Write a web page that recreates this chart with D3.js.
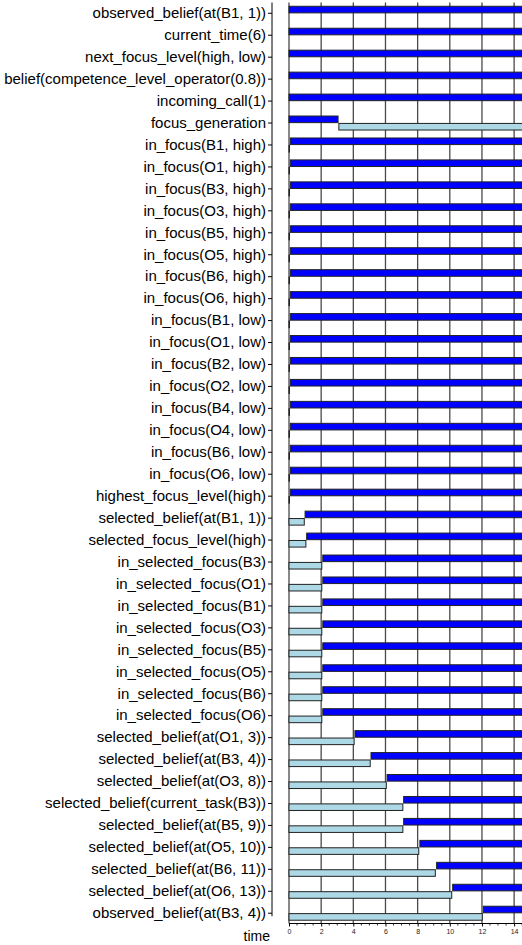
<!DOCTYPE html>
<html>
<head>
<meta charset="utf-8">
<script src="https://cdn.jsdelivr.net/npm/d3@7"></script>
<style>
  html, body { margin: 0; padding: 0; background: #fff; }
  svg { display: block; }
</style>
</head>
<body>
<svg id="chart" width="522" height="945"></svg>
<script>
// ---- data ----
const END = 15; // trace continues past the visible right edge

const labels = [
  "observed_belief(at(B1, 1))",
  "current_time(6)",
  "next_focus_level(high, low)",
  "belief(competence_level_operator(0.8))",
  "incoming_call(1)",
  "focus_generation",
  "in_focus(B1, high)",
  "in_focus(O1, high)",
  "in_focus(B3, high)",
  "in_focus(O3, high)",
  "in_focus(B5, high)",
  "in_focus(O5, high)",
  "in_focus(B6, high)",
  "in_focus(O6, high)",
  "in_focus(B1, low)",
  "in_focus(O1, low)",
  "in_focus(B2, low)",
  "in_focus(O2, low)",
  "in_focus(B4, low)",
  "in_focus(O4, low)",
  "in_focus(B6, low)",
  "in_focus(O6, low)",
  "highest_focus_level(high)",
  "selected_belief(at(B1, 1))",
  "selected_focus_level(high)",
  "in_selected_focus(B3)",
  "in_selected_focus(O1)",
  "in_selected_focus(B1)",
  "in_selected_focus(O3)",
  "in_selected_focus(B5)",
  "in_selected_focus(O5)",
  "in_selected_focus(B6)",
  "in_selected_focus(O6)",
  "selected_belief(at(O1, 3))",
  "selected_belief(at(B3, 4))",
  "selected_belief(at(O3, 8))",
  "selected_belief(current_task(B3))",
  "selected_belief(at(B5, 9))",
  "selected_belief(at(O5, 10))",
  "selected_belief(at(B6, 11))",
  "selected_belief(at(O6, 13))",
  "observed_belief(at(B3, 4))"
];

// true intervals [start, end] per row
const trueStart = [0, 0, 0, 0, 0, 0,
  0.08, 0.08, 0.08, 0.08, 0.08, 0.08, 0.08, 0.08,
  0.08, 0.08, 0.08, 0.08, 0.08, 0.08, 0.08, 0.08,
  0.08, 1.0, 1.1,
  2.1, 2.1, 2.1, 2.1, 2.1, 2.1, 2.1, 2.1,
  4.1, 5.1, 6.1, 7.13, 7.13, 8.14, 9.18, 10.18, 12.08];
const trueEnd = [END, END, END, END, END, 3.05,
  END, END, END, END, END, END, END, END,
  END, END, END, END, END, END, END, END,
  END, END, END,
  END, END, END, END, END, END, END, END,
  END, END, END, END, END, END, END, END, END];

// false intervals [start, end] per row (null = none)
const falseStart = [null, null, null, null, null, 3.1,
  0, 0, 0, 0, 0, 0, 0, 0,
  0, 0, 0, 0, 0, 0, 0, 0,
  0, 0, 0,
  0, 0, 0, 0, 0, 0, 0, 0,
  0, 0, 0, 0, 0, 0, 0, 0, 0];
const falseEnd = [null, null, null, null, null, END,
  0.03, 0.03, 0.03, 0.03, 0.03, 0.03, 0.03, 0.03,
  0.03, 0.03, 0.03, 0.03, 0.03, 0.03, 0.03, 0.03,
  0.03, 0.95, 1.05,
  2.04, 2.04, 2.04, 2.04, 2.04, 2.04, 2.04, 2.04,
  4.05, 5.05, 6.05, 7.08, 7.08, 8.07, 9.1, 10.12, 12.02];

const xTicks = [0, 2, 4, 6, 8, 10, 12, 14];
const xMinorStep = 0.5;
const xLabel = "time";

// ---- layout ----
const svg = d3.select("#chart");
const axisX = 272;
const x = d3.scaleLinear().domain([0, END]).range([289, 289 + END * 16.08]);
const y = d3.scaleBand().domain(labels).range([2.3, 924.2]).padding(0);
const bw = y.bandwidth();
const cy = d => y(d) + bw / 2;
const plotTop = 2.5, plotBottom = 923.5;

// grid lines
svg.append("g").selectAll("line").data(xTicks).join("line")
  .attr("x1", d => x(d)).attr("x2", d => x(d))
  .attr("y1", plotTop).attr("y2", plotBottom)
  .attr("stroke", "#4a4a4a").attr("stroke-width", 1.3);

// bars
const rows = labels.map((l, i) => ({l, ts: trueStart[i], te: trueEnd[i], fs: falseStart[i], fe: falseEnd[i]}));
const barH = 6.6;

svg.append("g").selectAll("rect").data(rows.filter(r => r.fs !== null)).join("rect")
  .attr("x", r => x(r.fs))
  .attr("y", r => cy(r.l) + 0.4)
  .attr("width", r => Math.max(0.01, x(r.fe) - x(r.fs)))
  .attr("height", barH)
  .attr("fill", "#add8e6")
  .attr("stroke", "#222").attr("stroke-width", 1);

svg.append("g").selectAll("rect").data(rows).join("rect")
  .attr("x", r => x(r.ts))
  .attr("y", r => cy(r.l) - 7)
  .attr("width", r => x(r.te) - x(r.ts))
  .attr("height", barH)
  .attr("fill", "#0000ff")
  .attr("stroke", "#222").attr("stroke-width", 1);

// y axis
const yAxis = d3.axisLeft(y).tickSize(4).tickPadding(2).tickSizeOuter(0);
const gy = svg.append("g").attr("transform", `translate(${axisX},0)`).call(yAxis);
gy.select(".domain").remove();
gy.append("line").attr("x1", 0).attr("x2", 0).attr("y1", 2.5).attr("y2", cy(labels[labels.length - 1]) + 3)
  .attr("stroke", "#000").attr("stroke-width", 1);
gy.selectAll(".tick line").attr("stroke", "#000");
gy.selectAll(".tick text")
  .attr("fill", "#000")
  .style("font-family", "'Liberation Sans', Arial, sans-serif")
  .style("font-size", "15px");

// x axis
const gx = svg.append("g").attr("transform", `translate(0,${plotBottom})`);
gx.append("line").attr("x1", x(0)).attr("x2", x(END)).attr("stroke", "#000").attr("stroke-width", 1);
const minor = d3.range(0, END + 0.001, xMinorStep).filter(v => !xTicks.includes(v));
gx.selectAll("line.minor").data(minor).join("line").attr("class", "minor")
  .attr("x1", d => x(d)).attr("x2", d => x(d)).attr("y1", 0).attr("y2", 2)
  .attr("stroke", "#000").attr("stroke-width", 0.8);
const xAxis = d3.axisBottom(x).tickValues(xTicks).tickSize(3).tickPadding(3).tickFormat(d3.format("d"));
gx.call(xAxis);
gx.select(".domain").remove();
gx.selectAll(".tick text")
  .attr("fill", "#222")
  .style("font-family", "'Liberation Sans', Arial, sans-serif")
  .style("font-size", "7px");

svg.append("text")
  .attr("x", 270).attr("y", 941)
  .attr("text-anchor", "end")
  .style("font-family", "'Liberation Sans', Arial, sans-serif")
  .style("font-size", "14px")
  .text(xLabel);
</script>
</body>
</html>
